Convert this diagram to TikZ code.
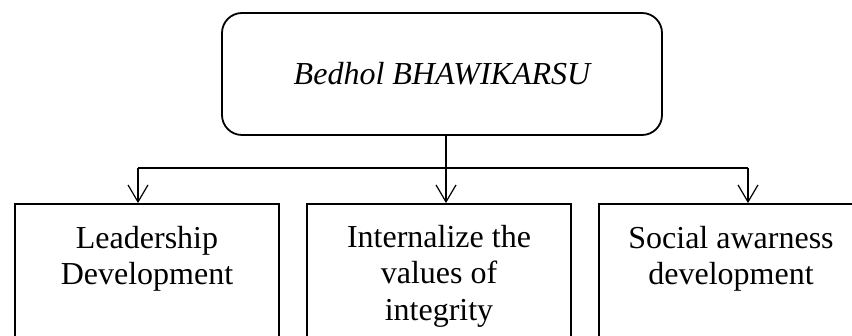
\documentclass[tikz,border=0pt]{standalone}
\usepackage{fontspec}
\setmainfont{Liberation Serif}
\usetikzlibrary{arrows.meta}
\tikzset{
  boxline/.style={draw=black, line width=1.8pt, inner sep=0pt},
  topbox/.style={boxline, rounded corners=20pt, minimum width=440pt, minimum height=122pt,
    font=\fontsize{32}{36.5}\selectfont\itshape},
  lowbox/.style={boxline, minimum width=264pt, minimum height=141pt},
  lowtext/.style={inner sep=0pt, anchor=north, align=center, font=\fontsize{32}{36.5}\selectfont},
  conn/.style={line width=1.2pt, draw=black},
  arr/.style={conn, -{Straight Barb[length=17pt,width=20pt,line width=1.2pt]}}
}
\begin{document}
\begin{tikzpicture}[x=1pt,y=-1pt]
\useasboundingbox (0,0) rectangle (852,336);
\node[topbox] (top) at (442,74) {Bedhol BHAWIKARSU};
\node[lowbox] (b1) at (147,274.5) {};
\node[lowbox] (b2) at (439,274.5) {};
\node[lowbox] (b3) at (731,274.5) {};
\node[lowtext] (t1) at (147,226) {Leadership\\Development};
\node[lowtext] (t2) at (439,225) {Internalize the\\values of\\integrity};
\node[lowtext] (t3) at (731,226) {Social awarness\\development};
\coordinate (a1) at (138,168);
\coordinate (a3) at (748,168);
\coordinate (s2) at ([xshift=4pt]top.south);
\draw[conn] (a1) -- (a3);
\draw[arr] (a1) -- (a1 |- b1.north);
\draw[arr] (a3) -- (a3 |- b3.north);
\draw[arr] (s2) -- (s2 |- b2.north);
\end{tikzpicture}
\end{document}
